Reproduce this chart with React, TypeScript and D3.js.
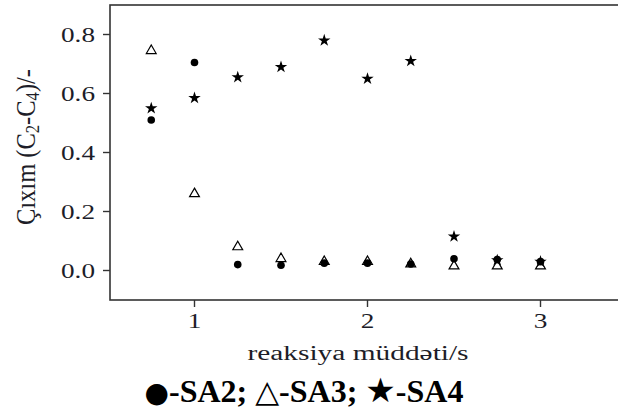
import React from "react";
import * as d3 from "d3";

// reaction time (s)
const times = [0.75, 1.0, 1.25, 1.5, 1.75, 2.0, 2.25, 2.5, 2.75, 3.0];
const sa2 = [0.51, 0.705, 0.02, 0.018, 0.025, 0.025, 0.022, 0.04, 0.037, 0.03];
const sa3 = [0.745, 0.26, 0.08, 0.04, 0.03, 0.03, 0.022, 0.015, 0.015, 0.015];
const sa4 = [0.55, 0.585, 0.655, 0.69, 0.78, 0.65, 0.71, 0.115, 0.035, 0.03];
const yTicks = [0.0, 0.2, 0.4, 0.6, 0.8];
const xTicks = [1, 2, 3];

const W = 618;
const H = 410;
const left = 110;
const top = 5;
const bottom = 300;

export default function App() {
  const x = d3.scaleLinear().domain([0.5, 3.5]).range([108, 108 + 3 * 173]);
  const y = d3.scaleLinear().domain([-0.1, 0.9]).range([bottom, top]);

  const tri = d3.symbol().type(d3.symbolTriangle).size(42)() as string;
  const star = d3.symbol().type(d3.symbolStar).size(48)() as string;

  const font = "'Liberation Serif', 'DejaVu Serif', serif";
  const sym = "'DejaVu Sans', sans-serif";
  const ink = "#1d1d28";

  return (
    <svg width={W} height={H} style={{ position: "absolute", left: 0, top: 0 }}>
      <rect x={0} y={0} width={W} height={H} fill="#fff" />
      {/* plot frame (right side falls outside the picture) */}
      <rect x={left} y={top} width={x.range()[1] - left} height={bottom - top}
        fill="none" stroke="#333" strokeWidth={1.6} />

      {yTicks.map((t) => (
        <g key={"y" + t}>
          <line x1={left - 7} x2={left} y1={y(t)} y2={y(t)} stroke="#333" strokeWidth={1.4} />
          <text transform={`translate(95,${y(t)}) scale(1.36,1)`} dy="0.35em" textAnchor="end"
            fontFamily={font} fontSize={20} fill={ink}>{t.toFixed(1)}</text>
        </g>
      ))}
      {xTicks.map((t) => (
        <g key={"x" + t}>
          <line x1={x(t)} x2={x(t)} y1={bottom} y2={bottom + 7} stroke="#333" strokeWidth={1.4} />
          <text transform={`translate(${x(t)},328) scale(1.3,1)`} textAnchor="middle"
            fontFamily={font} fontSize={21} fill={ink}>{t}</text>
        </g>
      ))}

      <text transform={`translate(35,147) scale(1.4,1) rotate(-90)`} textAnchor="middle"
        fontFamily={font} fontSize={19} fill={ink} textLength={156} lengthAdjust="spacingAndGlyphs">
        Çıxım (C<tspan fontSize={13} dy={3}>2</tspan><tspan dy={-3}>-C</tspan>
        <tspan fontSize={13} dy={3}>4</tspan><tspan dy={-3}>)/-</tspan>
      </text>

      <text transform="translate(358,360) scale(1.47,1)" textAnchor="middle" fontFamily={font}
        fontSize={20} fill={ink}>
        reaksiya müddəti/s
      </text>

      <text x={304} y={402} textAnchor="middle" fontFamily={font} fontSize={32}
        fontWeight="bold" fill="#000">
        <tspan fontFamily={sym} fontWeight="normal" fontSize={28}>●</tspan>-SA2;{" "}
        <tspan fontFamily={sym} fontWeight="normal" fontSize={31}>△</tspan>-SA3;{" "}
        <tspan fontFamily={sym} fontWeight="normal" fontSize={34}>★</tspan>-SA4
      </text>

      {times.map((t, i) => (
        <path key={"t" + i} d={tri} transform={`translate(${x(t)},${y(sa3[i])})`}
          fill="#fff" stroke="#000" strokeWidth={1.2} />
      ))}
      {times.map((t, i) => (
        <circle key={"c" + i} cx={x(t)} cy={y(sa2[i])} r={3.8} fill="#000" />
      ))}
      {times.map((t, i) => (
        <path key={"s" + i} d={star} transform={`translate(${x(t)},${y(sa4[i])})`} fill="#000" />
      ))}
    </svg>
  );
}
